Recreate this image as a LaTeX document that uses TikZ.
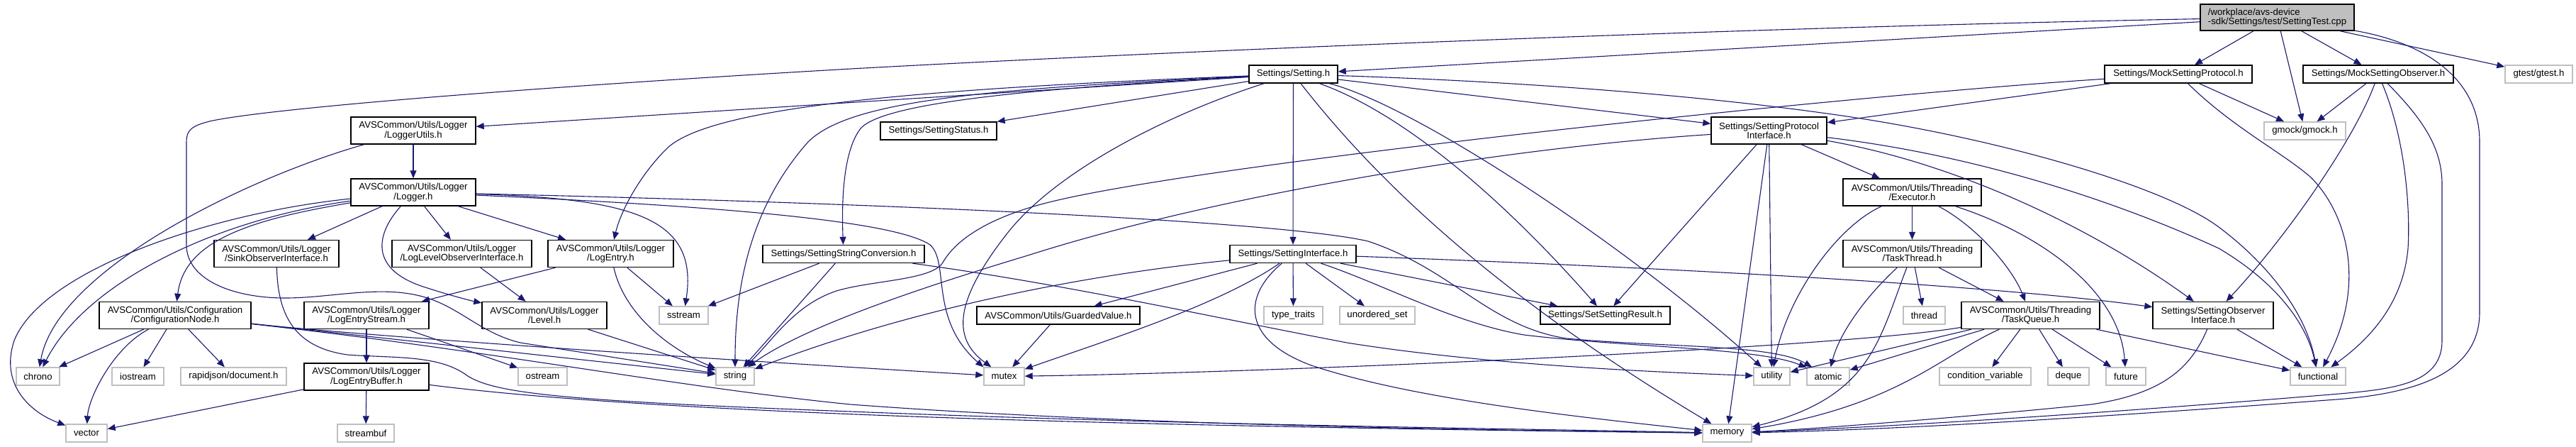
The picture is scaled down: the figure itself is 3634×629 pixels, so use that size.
\documentclass[tikz,border=0pt]{standalone}
\usepackage{fontspec}
\setmainfont{Liberation Sans}
\usetikzlibrary{arrows.meta}
\definecolor{edgeblue}{RGB}{25,25,112}
\definecolor{greyline}{RGB}{191,191,191}
\tikzset{
  basebox/.style={rectangle, inner sep=0pt, font=\fontsize{6.6pt}{6.6pt}\selectfont, align=center, line width=0.7pt},
  hdr/.style={basebox, draw=black, fill=white},
  ext/.style={basebox, draw=greyline, fill=white, minimum height=12.5pt},
  rootbox/.style={basebox, draw=black, fill=greyline, align=left},
  s1/.style={minimum height=12.5pt},
  s2/.style={minimum height=19pt},
  dep/.style={draw=edgeblue, line width=0.55pt, -{Triangle[length=5.5pt,width=4.5pt]}}
}
\begin{document}
\begin{tikzpicture}[x=0.5pt,y=-0.5pt]
\fill[white] (0,0) rectangle (3634,629);
\useasboundingbox (0,0) rectangle (3634,629);
% row 0
\node[rootbox, minimum width=108.5pt, minimum height=18.5pt] (root) at (3212.5,24.5) {/workplace/avs-device\\-sdk/Settings/test/SettingTest.cpp};
% row 1
\node[hdr,s1,minimum width=62.5pt] (setting) at (1824.5,104.5) {Settings/Setting.h};
\node[hdr,s1,minimum width=104pt] (msp) at (3073,104.5) {Settings/MockSettingProtocol.h};
\node[hdr,s1,minimum width=106pt] (mso) at (3355,104.5) {Settings/MockSettingObserver.h};
\node[ext,minimum width=47.5pt] (gtest) at (3581.5,104.5) {gtest/gtest.h};
% row 2
\node[hdr,s2,minimum width=88pt] (loggerutils) at (583,184) {AVSCommon/Utils/Logger\\/LoggerUtils.h};
\node[hdr,s1,minimum width=82pt] (status) at (1324,184.5) {Settings/SettingStatus.h};
\node[hdr,s2,minimum width=81.5pt] (spi) at (2495.5,184) {Settings/SettingProtocol\\Interface.h};
\node[ext,minimum width=57.5pt] (gmock) at (3251.5,184.5) {gmock/gmock.h};
% row 3
\node[hdr,s2,minimum width=88pt] (logger) at (583,271) {AVSCommon/Utils/Logger\\/Logger.h};
\node[hdr,s2,minimum width=97.5pt] (executor) at (2697.5,271) {AVSCommon/Utils/Threading\\/Executor.h};
% row 4
\node[hdr,s2,minimum width=88pt] (sink) at (390,357.5) {AVSCommon/Utils/Logger\\/SinkObserverInterface.h};
\node[hdr,s2,minimum width=98.5pt] (loglevel) at (651.5,357.5) {AVSCommon/Utils/Logger\\/LogLevelObserverInterface.h};
\node[hdr,s2,minimum width=88.5pt] (logentry) at (861.5,357.5) {AVSCommon/Utils/Logger\\/LogEntry.h};
\node[hdr,s1,minimum width=114pt] (ssc) at (1190,358) {Settings/SettingStringConversion.h};
\node[hdr,s1,minimum width=89pt] (si) at (1824,358) {Settings/SettingInterface.h};
\node[hdr,s2,minimum width=97.5pt] (taskthread) at (2697.5,357.5) {AVSCommon/Utils/Threading\\/TaskThread.h};
% row 5
\node[hdr,s2,minimum width=107pt] (confnode) at (247,444.5) {AVSCommon/Utils/Configuration\\/ConfigurationNode.h};
\node[hdr,s2,minimum width=88pt] (logentrystream) at (517,444.5) {AVSCommon/Utils/Logger\\/LogEntryStream.h};
\node[hdr,s2,minimum width=88pt] (level) at (768,444.5) {AVSCommon/Utils/Logger\\/Level.h};
\node[ext,minimum width=34.5pt] (sstream) at (964.5,444.5) {sstream};
\node[hdr,s1,minimum width=115pt] (guarded) at (1493,444.5) {AVSCommon/Utils/GuardedValue.h};
\node[ext,minimum width=41.5pt] (typetraits) at (1824.5,444.5) {type\_traits};
\node[ext,minimum width=53pt] (unordered) at (1943,444.5) {unordered\_set};
\node[hdr,s1,minimum width=91.5pt] (setresult) at (2264.5,444.5) {Settings/SetSettingResult.h};
\node[ext,minimum width=29.5pt] (thread) at (2714.5,444.5) {thread};
\node[hdr,s2,minimum width=97.5pt] (taskqueue) at (2864.5,444.5) {AVSCommon/Utils/Threading\\/TaskQueue.h};
\node[hdr,s2,minimum width=85pt] (soi) at (3122,444.5) {Settings/SettingObserver\\Interface.h};
% row 6
\node[ext,minimum width=30.5pt] (chrono) at (53.5,530.5) {chrono};
\node[ext,minimum width=36.5pt] (iostream) at (194.5,530.5) {iostream};
\node[ext,minimum width=74.5pt] (rapidjson) at (329.5,530.5) {rapidjson/document.h};
\node[hdr,s2,minimum width=88pt] (logentrybuffer) at (517,531) {AVSCommon/Utils/Logger\\/LogEntryBuffer.h};
\node[ext,minimum width=34.5pt] (ostream) at (765.5,530.5) {ostream};
\node[ext,minimum width=27pt] (string) at (1037,530.5) {string};
\node[ext,minimum width=28.5pt] (mutex) at (1416.5,530.5) {mutex};
\node[ext,minimum width=25.5pt] (utility) at (2499.5,530.5) {utility};
\node[ext,minimum width=30pt] (atomic) at (2579,530.5) {atomic};
\node[ext,minimum width=64.5pt] (condvar) at (2800.5,530.5) {condition\_variable};
\node[ext,minimum width=29pt] (deque) at (2918,530.5) {deque};
\node[ext,minimum width=28pt] (future) at (2999,530.5) {future};
\node[ext,minimum width=39pt] (functional) at (3270,530.5) {functional};
% row 7
\node[ext,minimum width=29pt] (vector) at (122,610.5) {vector};
\node[ext,minimum width=40pt] (streambuf) at (516,610.5) {streambuf};
\node[ext,minimum width=34.5pt] (memory) at (2436.5,610.5) {memory};

% ---- edges from root
\draw[dep] (root) -- (setting);
\draw[dep] (root) .. controls (2400,40) and (1600,75) .. (1200,97) .. controls (800,120) and (400,150) .. (300,170) .. controls (268,177) and (263,185) .. (263,200) -- (263,345) .. controls (263,395) and (330,420) .. (402,420) .. controls (470,420) and (540,400) .. (603,420) .. controls (650,435) and (680,470) .. (734,483) -- (string);
\draw[dep] (root) -- (msp);
\draw[dep] (root) -- (gmock);
\draw[dep] (root) -- (mso);
\draw[dep] (root) -- (gtest);
\draw[dep] (root) .. controls (3420,60) and (3498,110) .. (3498,200) -- (3498,440) .. controls (3498,530) and (3400,555) .. (3296,563) .. controls (3000,585) and (2700,605) .. (memory);

% ---- Setting.h
\draw[dep] (setting) -- (loggerutils);
\draw[dep] (setting) .. controls (1300,125) and (1000,150) .. (940,210) .. controls (900,250) and (875,300) .. (logentry);
\draw[dep] (setting) .. controls (1400,125) and (1200,140) .. (1140,200) .. controls (1060,290) and (1037,400) .. (string);
\draw[dep] (setting) .. controls (1450,125) and (1250,145) .. (1215,180) .. controls (1190,210) and (1187,280) .. (ssc);
\draw[dep] (setting) -- (status);
\draw[dep] (setting) .. controls (1650,160) and (1490,240) .. (1420,330) .. controls (1350,420) and (1340,475) .. (mutex);
\draw[dep] (setting) -- (si);
\draw[dep] (setting) .. controls (1900,200) and (2050,380) .. (memory);
\draw[dep] (setting) .. controls (2000,150) and (2300,350) .. (utility);
\draw[dep] (setting) .. controls (1980,160) and (2120,280) .. (setresult);
\draw[dep] (setting) .. controls (2150,115) and (2400,135) .. (2577,160) .. controls (2800,190) and (3050,260) .. (3130,320) .. controls (3210,380) and (3255,450) .. (functional);
\draw[dep] (setting) -- (spi);

% ---- MockSettingProtocol.h
\draw[dep] (msp) -- (spi);
\draw[dep] (msp) .. controls (2600,135) and (1700,230) .. (1480,285) .. controls (1400,305) and (1350,335) .. (1330,370) .. controls (1315,395) and (1230,395) .. (1180,410) .. controls (1120,430) and (1090,480) .. (string);
\draw[dep] (msp) -- (gmock);
\draw[dep] (msp) .. controls (3150,180) and (3220,215) .. (3260,250) .. controls (3310,300) and (3340,400) .. (functional);

% ---- MockSettingObserver.h
\draw[dep] (mso) -- (gmock);
\draw[dep] (mso) .. controls (3320,200) and (3220,340) .. (soi);
\draw[dep] (mso) .. controls (3395,200) and (3400,300) .. (3397,350) .. controls (3390,430) and (3340,480) .. (functional);
\draw[dep] (mso) .. controls (3420,170) and (3445,210) .. (3445,260) -- (3445,480) .. controls (3445,540) and (3380,548) .. (3300,555) .. controls (3000,580) and (2700,600) .. (memory);

% ---- LoggerUtils.h
\draw[dep] (loggerutils) -- (logger);
\draw[dep] (loggerutils) .. controls (350,250) and (80,380) .. (chrono);

% ---- Logger.h
\draw[dep] (logger) .. controls (300,300) and (60,380) .. (20,480) .. controls (0,540) and (40,580) .. (vector);
\draw[dep] (logger) .. controls (300,310) and (120,400) .. (chrono);
\draw[dep] (logger) .. controls (350,310) and (260,340) .. (confnode);
\draw[dep] (logger) -- (sink);
\draw[dep] (logger) .. controls (530,330) and (520,380) .. (600,405) .. controls (640,418) and (670,425) .. (level);
\draw[dep] (logger) -- (loglevel);
\draw[dep] (logger) -- (logentry);
\draw[dep] (logger) .. controls (900,280) and (985,310) .. (sstream);
\draw[dep] (logger) .. controls (1000,290) and (1260,310) .. (1312,345) .. controls (1340,370) and (1310,450) .. (mutex.north west);
\draw[dep] (logger) .. controls (1200,285) and (1800,310) .. (1930,340) .. controls (2050,380) and (2100,460) .. (2210,477) .. controls (2350,490) and (2500,485) .. (atomic);

% ---- SinkObserverInterface.h
\draw[dep] (sink) .. controls (392,450) and (420,490) .. (490,500) .. controls (560,505) and (620,500) .. (660,530) .. controls (700,555) and (800,565) .. (1200,580) .. controls (1700,600) and (2200,605) .. (memory);

% ---- LogLevelObserverInterface.h
\draw[dep] (loglevel) -- (level);

% ---- LogEntry.h
\draw[dep] (logentry) -- (logentrystream);
\draw[dep] (logentry) -- (sstream);
\draw[dep] (logentry) .. controls (880,440) and (940,490) .. (string);

% ---- SettingStringConversion.h
\draw[dep] (ssc) -- (sstream);
\draw[dep] (ssc) -- (string);
\draw[dep] (ssc) .. controls (1500,400) and (1700,445) .. (1900,483) .. controls (2100,515) and (2350,525) .. (utility);

% ---- SettingInterface.h
\draw[dep] (si) .. controls (1550,385) and (1300,430) .. (string);
\draw[dep] (si) -- (guarded);
\draw[dep] (si) .. controls (1720,430) and (1560,480) .. (mutex);
\draw[dep] (si) .. controls (1750,420) and (1755,480) .. (1850,515) .. controls (2000,565) and (2250,590) .. (memory);
\draw[dep] (si) -- (typetraits);
\draw[dep] (si) -- (unordered);
\draw[dep] (si) .. controls (1950,400) and (2050,455) .. (2150,472) .. controls (2300,490) and (2480,490) .. (atomic);
\draw[dep] (si) -- (setresult);
\draw[dep] (si) .. controls (2300,375) and (2800,400) .. (soi);

% ---- SettingProtocolInterface.h
\draw[dep] (spi) .. controls (2100,210) and (1700,280) .. (1450,360) .. controls (1250,420) and (1120,470) .. (string);
\draw[dep] (spi) -- (setresult);
\draw[dep] (spi) -- (memory);
\draw[dep] (spi) -- (utility);
\draw[dep] (spi) -- (executor);
\draw[dep] (spi) .. controls (2760,230) and (2950,320) .. (soi);
\draw[dep] (spi) .. controls (2800,220) and (3000,290) .. (3130,350) .. controls (3215,400) and (3255,460) .. (functional);

% ---- Executor.h
\draw[dep] (executor) .. controls (2590,320) and (2520,420) .. (utility);
\draw[dep] (executor) -- (taskthread);
\draw[dep] (executor) .. controls (2790,320) and (2840,380) .. (taskqueue);
\draw[dep] (executor) .. controls (2880,330) and (2990,410) .. (future);

% ---- TaskThread.h
\draw[dep] (taskthread) .. controls (2630,420) and (2595,470) .. (atomic);
\draw[dep] (taskthread) .. controls (2650,480) and (2640,560) .. (memory);
\draw[dep] (taskthread) -- (thread);
\draw[dep] (taskthread) -- (taskqueue);

% ---- TaskQueue.h
\draw[dep] (taskqueue) .. controls (2600,490) and (1800,525) .. (mutex);
\draw[dep] (taskqueue) -- (utility);
\draw[dep] (taskqueue) -- (atomic);
\draw[dep] (taskqueue) .. controls (2740,500) and (2680,570) .. (memory);
\draw[dep] (taskqueue) -- (condvar);
\draw[dep] (taskqueue) -- (deque);
\draw[dep] (taskqueue) -- (future);
\draw[dep] (taskqueue) -- (functional);

% ---- SettingObserverInterface.h
\draw[dep] (soi) -- (functional);
\draw[dep] (soi) .. controls (3090,520) and (3050,555) .. (2950,570) .. controls (2750,590) and (2550,605) .. (memory);

% ---- ConfigurationNode.h
\draw[dep] (confnode) -- (chrono);
\draw[dep] (confnode) -- (iostream);
\draw[dep] (confnode) -- (rapidjson);
\draw[dep] (confnode) .. controls (160,490) and (125,560) .. (vector);
\draw[dep] (confnode) -- (string);
\draw[dep] (confnode) .. controls (500,472) and (900,500) .. (mutex);
\draw[dep] (confnode) .. controls (700,495) and (950,545) .. (1200,570) .. controls (1600,600) and (2100,606) .. (memory);

% ---- LogEntryStream.h / Level.h / GuardedValue.h / LogEntryBuffer.h
\draw[dep] (logentrystream) -- (logentrybuffer);
\draw[dep] (logentrystream) -- (ostream);
\draw[dep] (level) -- (string);
\draw[dep] (guarded) -- (mutex);
\draw[dep] (logentrybuffer) -- (vector);
\draw[dep] (logentrybuffer) -- (streambuf);
\draw[dep] (logentrybuffer) .. controls (900,580) and (1500,600) .. (memory);
\end{tikzpicture}
\end{document}
